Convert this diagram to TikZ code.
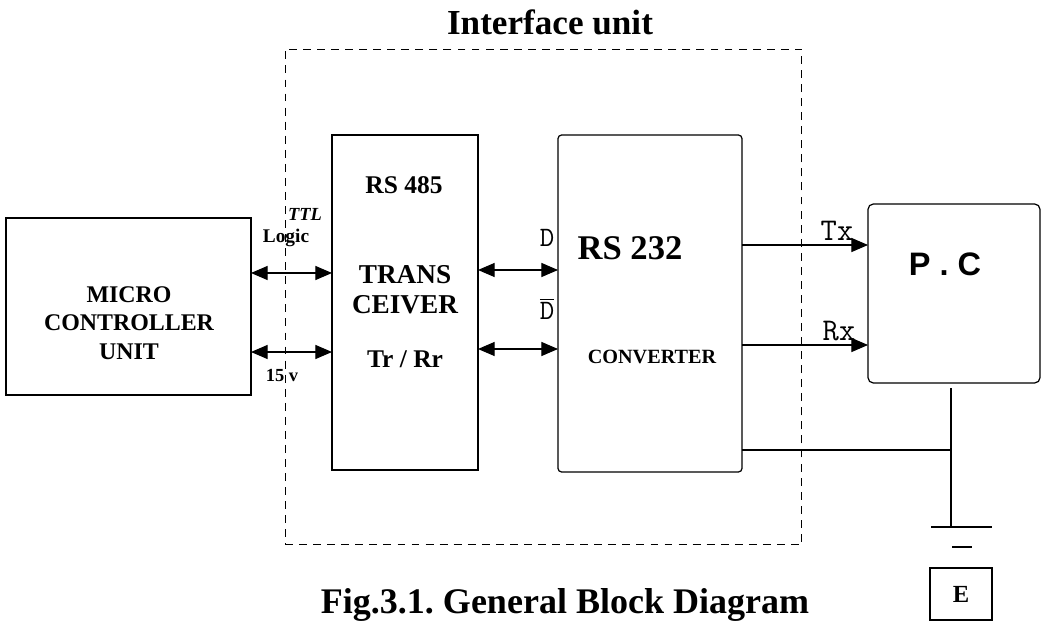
\documentclass[tikz,border=0pt]{standalone}
\usepackage{fontspec}
\setmainfont{Liberation Serif}
\newfontfamily\arialfont{Liberation Sans}
\usetikzlibrary{arrows.meta, positioning}

\begin{document}
\begin{tikzpicture}[x=0.02cm, y=-0.02cm, line width=0.7pt,
    blockbox/.style={draw, inner sep=0pt, outer sep=0pt},
    dblarrow/.style={{Triangle[length=9.5pt,width=8pt]}-{Triangle[length=9.5pt,width=8pt]}},
    sigarrow/.style={-{Triangle[length=9.5pt,width=8pt]}}]
  \useasboundingbox (0,0) rectangle (1047,631);

  % Interface unit outline
  \node[draw, line width=0.6pt, dash pattern=on 4.5pt off 3.5pt, inner sep=0pt,
        minimum width=10.34cm, minimum height=9.92cm] (iface) at (543.5,297) {};
  \node[font=\bfseries\fontsize{20}{24}\selectfont, anchor=base] (ifacetitle) at (550,35)
    {Interface unit};

  % Blocks
  \node[blockbox, minimum width=4.9cm, minimum height=3.54cm] (mcu) at (128.5,306.5) {};
  \node[blockbox, minimum width=2.92cm, minimum height=6.7cm] (rs485) at (405,302.5) {};
  \node[blockbox, rounded corners=2pt, minimum width=3.68cm, minimum height=6.74cm] (conv) at (650,303.5) {};
  \node[blockbox, rounded corners=3pt, minimum width=3.44cm, minimum height=3.58cm] (pc) at (954,293.5) {};

  % Block texts
  \node[align=center, font=\bfseries\fontsize{13.6}{16.2}\selectfont] (mcutext) at (129,323)
    {MICRO\\CONTROLLER\\UNIT};
  \node[font=\bfseries\fontsize{14.5}{17}\selectfont] (rstitle) at (404,185) {RS 485};
  \node[align=center, font=\bfseries\fontsize{15.5}{17}\selectfont] (trans) at (405,290)
    {TRANS\\CEIVER};
  \node[font=\bfseries\fontsize{14.5}{17}\selectfont] (trrr) at (405,359) {Tr / Rr};
  \node[font=\bfseries\fontsize{19.7}{23}\selectfont] (convtitle) at (630,248) {RS 232};
  \node[font=\bfseries\fontsize{11.5}{14}\selectfont] (convtext) at (652,357) {CONVERTER};
  \node[font=\arialfont\bfseries\fontsize{18.5}{22}\selectfont] (pctext) at (945,264) {P . C};

  % Links between blocks
  \draw[dblarrow] (mcu.east |- 0,273) -- (rs485.west |- 0,273);
  \draw[dblarrow] (mcu.east |- 0,352) -- (rs485.west |- 0,352);
  \draw[dblarrow] (rs485.east |- 0,270) -- (conv.west |- 0,270);
  \draw[dblarrow] (rs485.east |- 0,349) -- (conv.west |- 0,349);
  \draw[sigarrow] (conv.east |- 0,245) -- (pc.west |- 0,245);
  \draw[sigarrow] (conv.east |- 0,345) -- (pc.west |- 0,345);

  % Link labels
  \node[font=\bfseries\itshape\fontsize{10.5}{12}\selectfont] (ttl) at (305,214) {TTL};
  \node[font=\bfseries\fontsize{11}{13}\selectfont] (logic) at (286,238) {Logic};
  \node[font=\bfseries\fontsize{10.5}{12}\selectfont] (volt) at (282,375) {15 v};
  \node[font=\ttfamily\fontsize{16}{18}\selectfont] (dlbl) at (547,238) {D};
  \node[font=\ttfamily\fontsize{16}{18}\selectfont] (dbarlbl) at (547,309)
    {\ensuremath{\overline{\hbox{D}}}};
  \node[font=\ttfamily\fontsize{18}{20}\selectfont] (txlbl) at (837,231) {Tx};
  \node[font=\ttfamily\fontsize{18}{20}\selectfont] (rxlbl) at (839,331) {Rx};

  % Earth
  \coordinate (gtop) at (951,388);
  \coordinate (gnd) at (951,527);
  \draw (gtop) -- (gnd);
  \draw (conv.east |- 0,450) -- (gnd |- 0,450);
  \draw (931,527) -- (992,527);
  \draw (952,547) -- (972,547);
  \node[blockbox, minimum width=1.24cm, minimum height=1.04cm,
        font=\bfseries\fontsize{14}{16}\selectfont] (ebox) at (961,594) {E};

  % Caption
  \node[font=\bfseries\fontsize{20.5}{24}\selectfont, anchor=base] (figcap) at (565,613)
    {\frenchspacing Fig.3.1. General Block Diagram};
\end{tikzpicture}
\end{document}
